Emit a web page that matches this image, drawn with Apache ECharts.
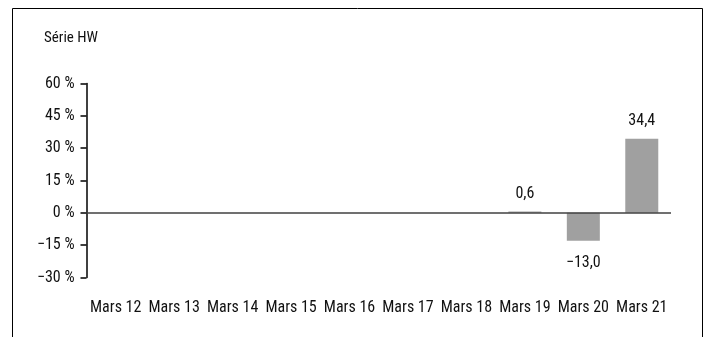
<!DOCTYPE html>
<html><head><meta charset="utf-8">
<script src="https://cdn.jsdelivr.net/npm/echarts@6/dist/echarts.min.js"></script>
<style>html,body{margin:0;padding:0;background:#fff}#c{width:709px;height:337px}</style>
</head><body><div id="c"></div>
<script>
const categories = ["Mars 12","Mars 13","Mars 14","Mars 15","Mars 16","Mars 17","Mars 18","Mars 19","Mars 20","Mars 21"];
const values = [null,null,null,null,null,null,null,0.6,-13.0,34.4];
const yTicks = [-30,-15,0,15,30,45,60];
const title = "Série HW";
const FONT = "'Roboto Condensed', 'DejaVu Sans Condensed', sans-serif";
const FS = 16;
const fmt = v => (v < 0 ? "\u2212" : "") + Math.abs(v).toFixed(1).replace(".", ",");
const seriesData = values.map(v => v == null ? null :
  {value: v, label: {distance: v < 0 ? 14 : 10}});
const chart = echarts.init(document.getElementById('c'), null, {renderer:'canvas'});
chart.setOption({
  animation:false,
  graphic:[
    {type:'rect', shape:{x:12.5,y:8.5,width:690,height:360}, style:{fill:null, stroke:'#000', lineWidth:1}},
    {type:'text', left:44, top:31, style:{text:title, font:"15px "+FONT, fill:'#111'}}
  ],
  grid:{left:86.5, right:38, top:83.5, bottom:59.5, containLabel:false},
  xAxis:{type:'category', data:categories, axisLine:{show:false}, axisTick:{show:false},
    axisLabel:{margin:22, fontSize:FS, fontFamily:FONT, color:'#111', interval:0}},
  yAxis:{type:'value', min:yTicks[0], max:yTicks[yTicks.length-1], interval:15,
    splitLine:{show:false},
    axisLine:{show:true, lineStyle:{color:'#000', width:1.5}},
    axisTick:{show:true, inside:false, length:6, lineStyle:{color:'#000', width:1.5}},
    axisLabel:{margin:12, fontSize:FS, fontFamily:FONT, color:'#111',
      formatter: v => (v<0?"\u2212":"") + Math.abs(v) + " %"}},
  series:[{type:'bar', data:seriesData, barWidth:33, itemStyle:{color:'#a0a0a0'},
    label:{show:true, position:'outside', distance:10, fontSize:FS, fontFamily:FONT, color:'#111',
      formatter: p => p.value==null ? '' : fmt(p.value)},
    markLine:{silent:true, symbol:'none', label:{show:false},
      lineStyle:{color:'#404040', width:1.5, type:'solid'}, data:[{yAxis:0}]}
  }]
});
</script></body></html>
